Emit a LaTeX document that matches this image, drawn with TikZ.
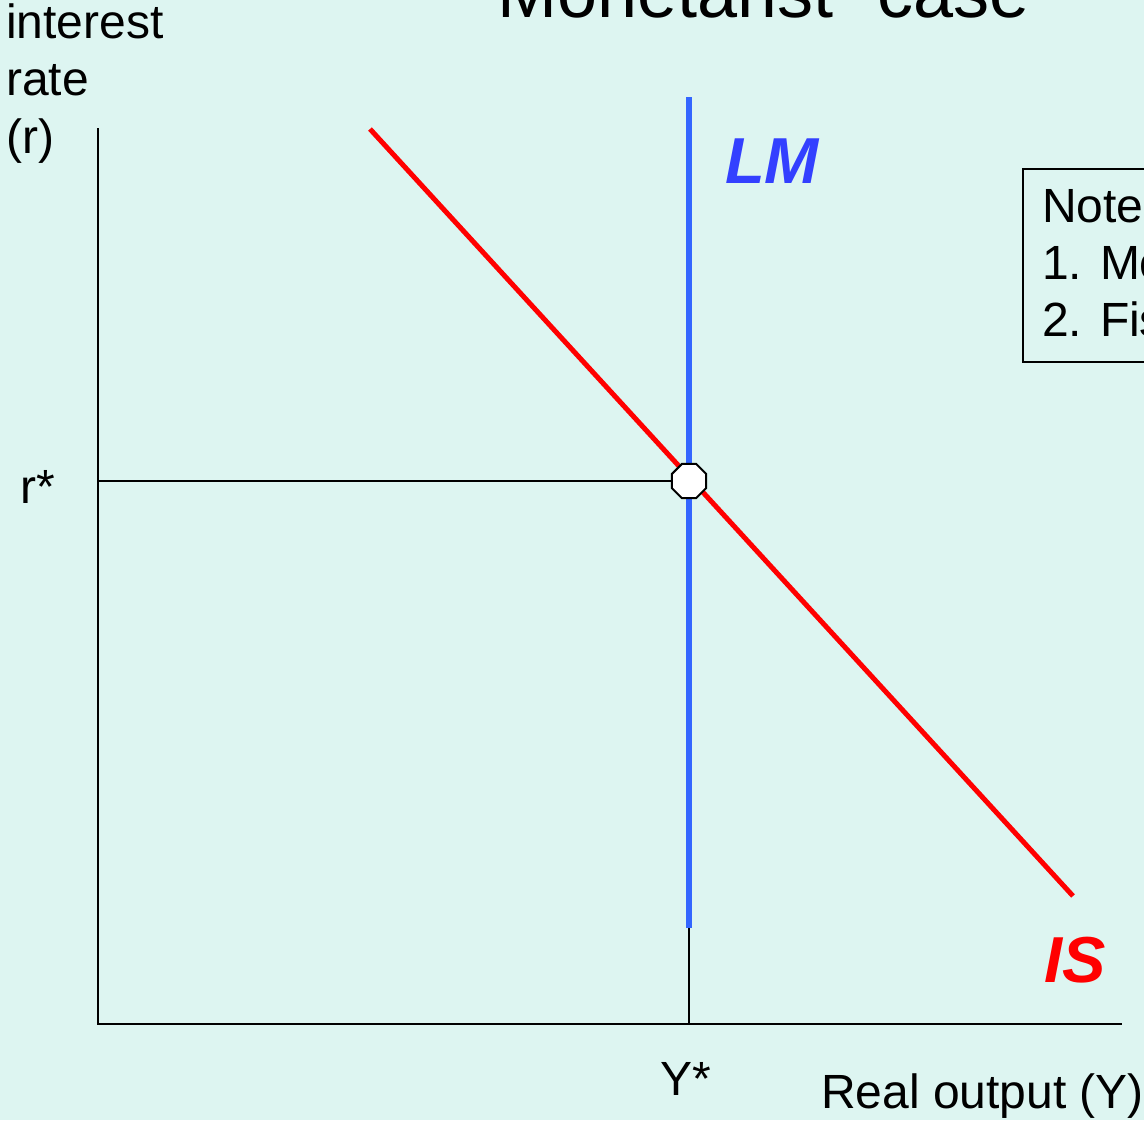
\documentclass[tikz,border=0pt]{standalone}
\usepackage{fontspec}
\setmainfont{Liberation Sans}
\usetikzlibrary{shapes.geometric}
\definecolor{bgmint}{HTML}{DDF5F1}
\definecolor{isred}{HTML}{FF0000}
\definecolor{lmblue}{HTML}{3366FF}
\definecolor{lmtext}{HTML}{3340FF}
\tikzset{
  axisline/.style={line width=2pt, black},
  guide/.style={line width=1.5pt, black},
  iscurve/.style={line width=5pt, isred},
  lmcurve/.style={line width=6pt, lmblue},
  lbl/.style={inner sep=0pt, font=\fontsize{48}{57.5}\selectfont},
  curvelbl/.style={inner sep=0pt, font=\fontsize{65}{70}\selectfont\bfseries\itshape},
  eqpt/.style={regular polygon, regular polygon sides=8, minimum size=37pt, inner sep=0pt, draw=black, line width=2pt, fill=white},
}
\begin{document}
\begin{tikzpicture}[x=1pt,y=-1pt]
\useasboundingbox (0,0) rectangle (1144,1120);
\clip (0,0) rectangle (1144,1120);
\fill[bgmint] (0,0) rectangle (1144,1120);

% coordinates
\coordinate (origin) at (98,1024);
\coordinate (ytop) at (98,128);
\coordinate (xend) at (1122,1024);
\coordinate (lmtop) at (689,97);
\coordinate (lmbot) at (689,928);
\coordinate (ystar) at (689,1024);
\coordinate (rstar) at (98,481);
\coordinate (istop) at (370,129);
\coordinate (isbot) at (1073,896);

% title
\node[inner sep=0pt, anchor=base west, font=\fontsize{72}{80}\selectfont] (title) at (473,17) {“Monetarist” case};

% axes
\draw[axisline] (ytop) -- (origin) -- (xend);

% curves
\draw[lmcurve] (lmtop) -- (lmbot);
\draw[iscurve] (istop) -- (isbot);

% equilibrium
\node[eqpt] (eq) at (689,481) {};
\draw[guide] (rstar) -- (eq.west);
\draw[guide] (lmbot) -- (ystar);

% labels
\node[lbl, anchor=base west, align=left] (ylabel) at (6,153) {interest\\rate\\(r)};
\node[lbl, anchor=base west] (rlabel) at (20,503) {r*};
\node[lbl, anchor=base west] (Ylabel) at (660,1095) {Y*};
\node[lbl, anchor=base west] (xlabel) at (821,1108) {Real output (Y)};
\node[curvelbl, anchor=base west, text=lmtext] (LM) at (725,183) {LM};
\node[curvelbl, anchor=base west, text=isred] (IS) at (1044,982) {IS};

% note box
\draw[line width=1.5pt] (1023,169) rectangle (1300,362);
\node[lbl, anchor=base west] (note0) at (1042,222) {Notes:};
\node[lbl, anchor=base west] (note1) at (1042,279) {1. Monetary policy};
\node[lbl, anchor=base west] (note2) at (1042,336) {2. Fiscal policy};
\end{tikzpicture}
\end{document}
